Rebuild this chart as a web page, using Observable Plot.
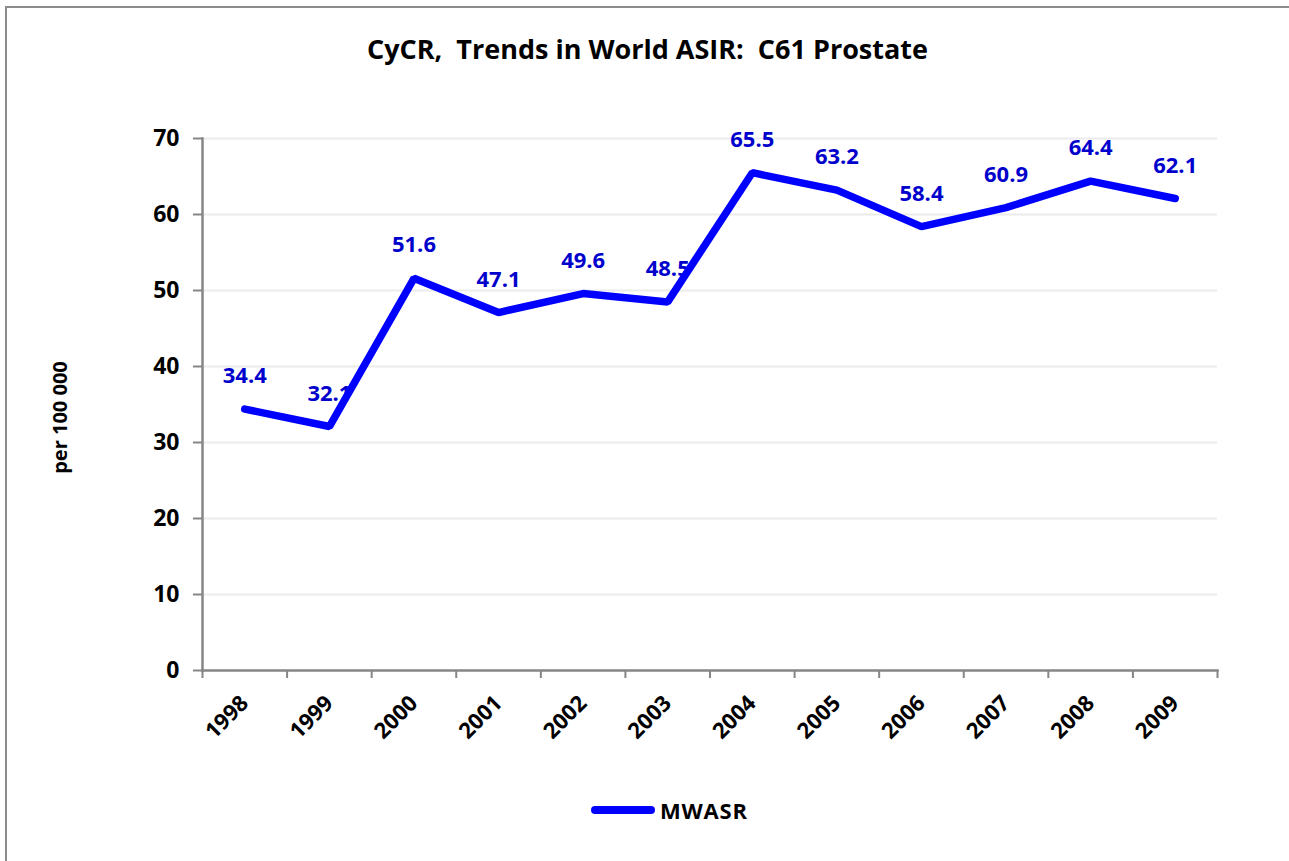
<!DOCTYPE html>
<html>
<head>
<meta charset="utf-8">
<script src="https://cdn.jsdelivr.net/npm/d3@7"></script>
<script src="https://cdn.jsdelivr.net/npm/@observablehq/plot@0.6"></script>
<style>
  html, body { margin: 0; padding: 0; background: #fff; }
  body { font-family: "Open Sans", sans-serif; }
  #wrap { position: relative; width: 1289px; height: 861px; overflow: hidden; background: #fff; }
  #border { position: absolute; left: 5px; top: 6px; width: 1300px; height: 900px; border-left: 2px solid #8c8c8c; border-top: 2px solid #8c8c8c; box-sizing: border-box; }
  #title { position: absolute; top: 31px; left: 0; width: 1295px; text-align: center; font-weight: bold; font-size: 27px; line-height: 36px; color: #000; white-space: pre; }
  #chart { position: absolute; left: 0; top: 0; }
  #legend { position: absolute; top: 794px; left: 591px; display: flex; align-items: center; height: 32px; }
  #legend .sw { width: 64px; height: 7.5px; background: #0000FF; border-radius: 4px; }
  #legend .lb { margin-left: 5px; font-weight: bold; font-size: 22px; letter-spacing: 0.8px; color: #000; }
</style>
</head>
<body>
<div id="wrap">
  <div id="border"></div>
  <div id="title">CyCR,  Trends in World ASIR:  C61 Prostate</div>
  <div id="chart"></div>
  <div id="legend"><div class="sw"></div><div class="lb">MWASR</div></div>
</div>
<script>
const years = [1998, 1999, 2000, 2001, 2002, 2003, 2004, 2005, 2006, 2007, 2008, 2009];
const mwasr = [34.4, 32.1, 51.6, 47.1, 49.6, 48.5, 65.5, 63.2, 58.4, 60.9, 64.4, 62.1];
const yTicks = [0, 10, 20, 30, 40, 50, 60, 70];
const seriesName = "MWASR";
const yLabel = "per 100 000";

const data = years.map((y, i) => ({year: y, value: mwasr[i]}));
const boundaries = [...years.map(y => y - 0.5), years[years.length - 1] + 0.5];

const plot = Plot.plot({
  width: 1289,
  height: 760,
  marginLeft: 202,
  marginRight: 72,
  marginTop: 138,
  marginBottom: 90,
  style: {fontFamily: "'Open Sans', sans-serif", background: "transparent", color: "#000"},
  x: {type: "linear", domain: [boundaries[0], boundaries[boundaries.length - 1]]},
  y: {domain: [0, 70]},
  marks: [
    Plot.gridY(yTicks.filter(d => d > 0), {stroke: "#ebebeb", strokeOpacity: 1, strokeWidth: 2}),
    Plot.axisY({ticks: yTicks, tickSize: 9, tickPadding: 14, fontSize: 23, fontWeight: "bold",
      stroke: "#868686", strokeWidth: 2, label: null}),
    Plot.text([yLabel], {frameAnchor: "left", text: d => d, rotate: -90, dx: -142, dy: 13,
      textAnchor: "middle", fontSize: 20, fontWeight: "bold", fill: "#000"}),
    Plot.axisX({ticks: boundaries, tickSize: 8, tickFormat: () => "", stroke: "#868686", strokeWidth: 2, label: null}),
    Plot.axisX({ticks: years, tickSize: 0, tickPadding: 29, tickRotate: -45, fontSize: 22, fontWeight: "bold", tickFormat: d => String(d), label: null}),
    Plot.frame({anchor: "left", stroke: "#868686", strokeWidth: 2.5}),
    Plot.frame({anchor: "bottom", stroke: "#868686", strokeWidth: 2.5}),
    Plot.text(data, {x: "year", y: "value", text: d => d.value.toFixed(1), dy: -33, fill: "#0000CC", fontSize: 22, fontWeight: "bold"}),
    Plot.line(data, {x: "year", y: "value", stroke: "#0000FF", strokeWidth: 7.5, strokeLinecap: "round", strokeLinejoin: "miter"})
  ]
});
document.getElementById("chart").appendChild(plot);
</script>
</body>
</html>
